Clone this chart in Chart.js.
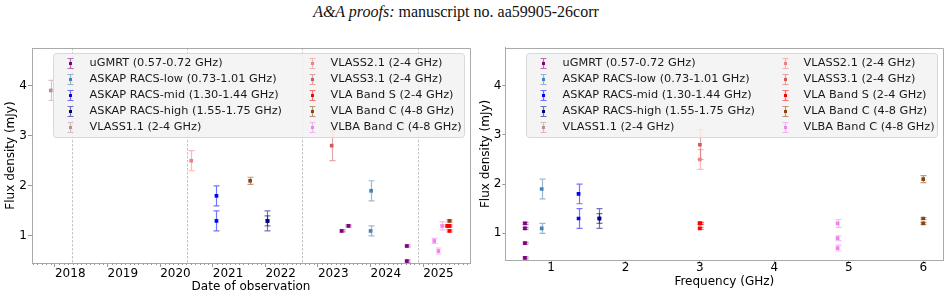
<!DOCTYPE html>
<html>
<head>
<meta charset="utf-8">
<script src="https://cdn.jsdelivr.net/npm/chart.js@4.4.1/dist/chart.umd.min.js"></script>
<style>
  body { margin: 0; background: #fff; }
  #wrap { position: relative; width: 950px; height: 298px; overflow: hidden; }
  #header { position: absolute; left: 0; top: 3px; width: 912px; text-align: center; font-family: 'Liberation Serif', serif; font-size: 16px; line-height: 18px; color: #111; }
  canvas { position: absolute; top: 0; }
  #dateChart { left: 0; }
  #freqChart { left: 475px; }
</style>
</head>
<body>
<div id="wrap">
  <div id="header"><i>A&amp;A proofs:</i> manuscript no. aa59905-26corr</div>
  <canvas id="dateChart" width="475" height="298"></canvas>
  <canvas id="freqChart" width="475" height="298"></canvas>
</div>
<script>
const instruments = [
    'uGMRT (0.57-0.72 GHz)',
    'ASKAP RACS-low (0.73-1.01 GHz)',
    'ASKAP RACS-mid (1.30-1.44 GHz)',
    'ASKAP RACS-high (1.55-1.75 GHz)',
    'VLASS1.1 (2-4 GHz)',
    'VLASS2.1 (2-4 GHz)',
    'VLASS3.1 (2-4 GHz)',
    'VLA Band S (2-4 GHz)',
    'VLA Band C (4-8 GHz)',
    'VLBA Band C (4-8 GHz)'
];
const colors = ['#800080', '#4682b4', '#0000ff', '#000080', '#bc8f8f',
                '#f08080', '#cd5c5c', '#ff0000', '#8b4513', '#ee82ee'];

// one entry per observation (index into instruments)
const obsInst = [0, 0, 0, 0, 1, 1, 2, 2, 3, 3, 4, 5, 6, 7, 7, 7, 8, 8, 8, 9, 9, 9];
const obsDate = [2023.45, 2023.58, 2024.69, 2024.69, 2024.01, 2024.00, 2021.07, 2021.07, 2022.04, 2022.04,
                 2017.92, 2020.59, 2023.26, 2025.46, 2025.50, 2025.50, 2021.71, 2025.50, 2025.48,
                 2025.21, 2025.29, 2025.36];
const obsFreq = [0.65, 0.65, 0.65, 0.65, 0.875, 0.875, 1.37, 1.37, 1.65, 1.65,
                 3.0, 3.0, 3.0, 3.0, 3.0, 3.0, 6.0, 6.0, 6.0, 4.85, 4.85, 4.85];
const obsFlux = [1.1, 1.2, 0.8, 0.5, 1.9, 1.1, 1.8, 1.3, 1.3, 1.3,
                 3.9, 2.5, 2.8, 1.2, 1.2, 1.1, 2.1, 1.3, 1.2, 0.9, 0.7, 1.2];
const obsErr = [0.02, 0.02, 0.02, 0.02, 0.2, 0.1, 0.2, 0.2, 0.2, 0.1,
                0.2, 0.2, 0.3, 0.02, 0.02, 0.02, 0.07, 0.02, 0.02, 0.05, 0.06, 0.08];

const epochLines = [2018.32, 2020.51, 2022.70, 2024.90];

Chart.defaults.font.family = "'DejaVu Sans', sans-serif";
Chart.defaults.font.size = 12;
Chart.defaults.color = '#000';

function buildDatasets(xs) {
    return instruments.map((name, i) => ({
        label: name,
        data: obsInst.map((k, j) => ({ x: xs[j], y: obsFlux[j], err: obsErr[j], inst: k }))
                     .filter(p => p.inst === i),
        backgroundColor: colors[i],
        borderColor: colors[i],
        borderWidth: 0,
        pointStyle: 'rect',
        pointRadius: 2.6,
        order: i === 8 ? 1 : 0
    }));
}

const errorBars = {
    id: 'errorBars',
    beforeDatasetsDraw(chart) {
        const { ctx, chartArea: a, scales: { x, y } } = chart;
        ctx.save();
        ctx.beginPath();
        ctx.rect(a.left, a.top, a.right - a.left, a.bottom - a.top);
        ctx.clip();
        ctx.lineWidth = 1.2;
        ctx.globalAlpha = 0.55;
        chart.data.datasets.forEach(ds => {
            ctx.strokeStyle = ds.borderColor;
            ds.data.forEach(p => {
                const px = Math.round(x.getPixelForValue(p.x)) + 0.5;
                const top = y.getPixelForValue(p.y + p.err);
                const bot = y.getPixelForValue(p.y - p.err);
                ctx.beginPath();
                ctx.moveTo(px, top); ctx.lineTo(px, bot);
                ctx.moveTo(px - 3, top); ctx.lineTo(px + 3, top);
                ctx.moveTo(px - 3, bot); ctx.lineTo(px + 3, bot);
                ctx.stroke();
            });
        });
        ctx.restore();
    }
};

const epochMarks = {
    id: 'epochMarks',
    beforeDatasetsDraw(chart, args, opts) {
        if (!opts.lines) return;
        const { ctx, chartArea: a, scales: { x } } = chart;
        ctx.save();
        ctx.strokeStyle = '#c4c4c4';
        ctx.lineWidth = 1;
        ctx.setLineDash([2.5, 1.5]);
        opts.lines.forEach(v => {
            const px = Math.round(x.getPixelForValue(v)) + 0.5;
            ctx.beginPath();
            ctx.moveTo(px, a.top); ctx.lineTo(px, a.bottom);
            ctx.stroke();
        });
        ctx.restore();
    },
    afterDatasetsDraw(chart, args, opts) {
        if (!opts.months) return;
        // monthly minor ticks on the date axis
        const { ctx, chartArea: a, scales: { x } } = chart;
        ctx.save();
        ctx.strokeStyle = '#999';
        ctx.lineWidth = 1;
        for (let m = Math.ceil(x.min * 12); m <= x.max * 12; m++) {
            if (m % 12 === 0) continue;
            const px = Math.round(x.getPixelForValue(m / 12)) + 0.5;
            ctx.beginPath();
            ctx.moveTo(px, a.bottom); ctx.lineTo(px, a.bottom + 2);
            ctx.stroke();
        }
        ctx.restore();
    }
};

const frame = {
    id: 'frame',
    afterDatasetsDraw(chart) {
        const { ctx, chartArea: a } = chart;
        ctx.save();
        ctx.strokeStyle = '#aaa';
        ctx.lineWidth = 1;
        ctx.beginPath();
        ctx.moveTo(Math.round(a.left), Math.round(a.top) + 0.5);
        ctx.lineTo(Math.round(a.right) + 0.5, Math.round(a.top) + 0.5);
        ctx.lineTo(Math.round(a.right) + 0.5, Math.round(a.bottom));
        ctx.stroke();
        ctx.restore();
    }
};

const legendBox = {
    id: 'legendBox',
    afterDatasetsDraw(chart) {
        const { ctx, chartArea: a } = chart;
        const bx = Math.round(a.left + 21) + 0.5, by = Math.round(a.top + 5) + 0.5;
        ctx.save();
        ctx.fillStyle = 'rgba(242,242,242,0.85)';
        ctx.strokeStyle = '#d8d8d8';
        ctx.lineWidth = 1;
        ctx.beginPath();
        ctx.roundRect(bx, by, 411, 84, 3);
        ctx.fill();
        ctx.stroke();
        ctx.font = "11.3px 'DejaVu Sans'";
        ctx.textBaseline = 'middle';
        instruments.forEach((name, i) => {
            const col = Math.floor(i / 5), row = i % 5;
            const mx = Math.round(bx + (col ? 258.5 : 16)) + 0.5;
            const ty = by + 10 + row * 16;
            ctx.globalAlpha = 0.55;
            ctx.strokeStyle = colors[i];
            ctx.lineWidth = 1.2;
            ctx.beginPath();
            ctx.moveTo(mx, ty - 5); ctx.lineTo(mx, ty + 5);
            ctx.moveTo(mx - 3, ty - 5); ctx.lineTo(mx + 3, ty - 5);
            ctx.moveTo(mx - 3, ty + 5); ctx.lineTo(mx + 3, ty + 5);
            ctx.stroke();
            ctx.globalAlpha = 1;
            ctx.fillStyle = colors[i];
            ctx.fillRect(mx - 1.5, ty - 1.5, 3, 3);
            ctx.fillStyle = '#1a1a1a';
            ctx.fillText(name, bx + (col ? 277 : 36), ty);
        });
        ctx.restore();
    }
};

function makeChart(id, xs, cfg) {
    return new Chart(document.getElementById(id), {
        type: 'scatter',
        data: { datasets: buildDatasets(xs) },
        plugins: [errorBars, epochMarks, frame, legendBox],
        options: {
            responsive: false,
            animation: false,
            layout: { padding: { top: cfg.top, right: cfg.right, left: 0, bottom: 0 } },
            plugins: {
                legend: { display: false },
                tooltip: { enabled: false },
                epochMarks: { lines: cfg.lines, months: cfg.months }
            },
            scales: {
                x: {
                    type: 'linear',
                    min: cfg.xMin, max: cfg.xMax,
                    afterFit: s => { s.height = cfg.xHeight; },
                    grid: { drawOnChartArea: false, tickLength: cfg.xTick, tickColor: '#999' },
                    border: { color: '#aaa' },
                    ticks: {
                        stepSize: 1, includeBounds: false, autoSkip: false, maxRotation: 0,
                        align: cfg.xAlign, padding: cfg.xPad,
                        callback: v => String(v)
                    },
                    title: { display: true, text: cfg.xTitle, padding: { top: 0, bottom: cfg.xTitlePad } }
                },
                y: {
                    min: cfg.yMin, max: cfg.yMax,
                    afterFit: s => { s.width = cfg.yWidth; },
                    grid: { drawOnChartArea: false, tickLength: cfg.yTick, tickColor: '#999' },
                    border: { color: '#aaa' },
                    ticks: { stepSize: 1, includeBounds: false, padding: 1, callback: v => String(v) },
                    title: { display: true, text: 'Flux density (mJy)', padding: { top: 3.8, bottom: 0 } }
                }
            }
        }
    });
}

makeChart('dateChart', obsDate, {
    top: 48, right: 5, xHeight: 35, yWidth: 32,
    xMin: 2017.563, xMax: 2025.89, yMin: 0.461, yMax: 4.746,
    xTick: 4, yTick: 4, xPad: -0.5, xAlign: 'start', xTitlePad: 4,
    xTitle: 'Date of observation', lines: epochLines, months: true
});

makeChart('freqChart', obsFreq, {
    top: 47.5, right: 6.7, xHeight: 37.7, yWidth: 30.3,
    xMin: 0.386, xMax: 6.27, yMin: 0.451, yMax: 4.776,
    xTick: 3, yTick: 3, xPad: -2.5, xAlign: 'center', xTitlePad: 9,
    xTitle: 'Frequency (GHz)', lines: null, months: false
});
</script>
</body>
</html>
